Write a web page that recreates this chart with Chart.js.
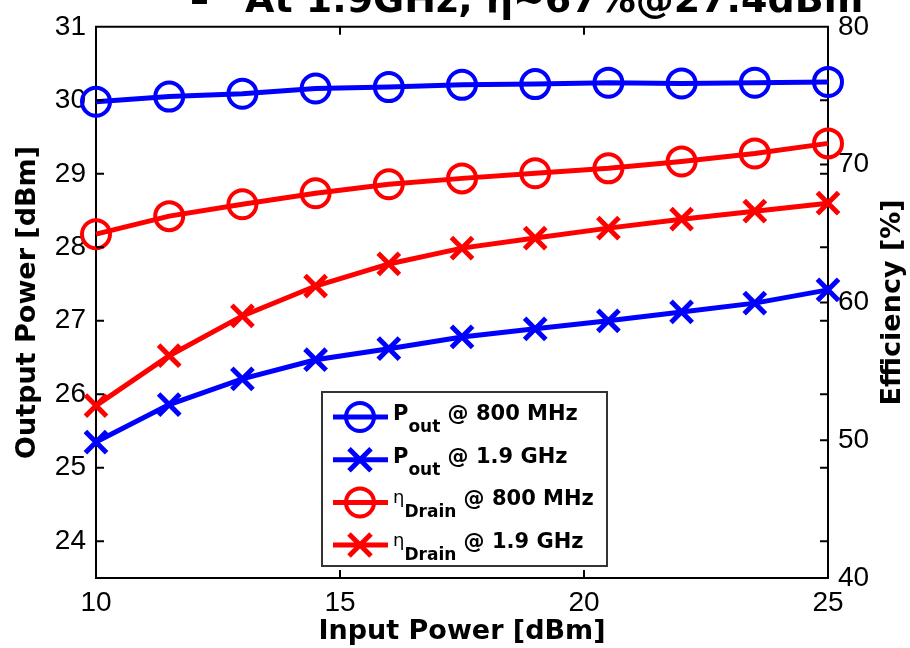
<!DOCTYPE html>
<html>
<head>
<meta charset="utf-8">
<title>Output power and drain efficiency vs input power</title>
<script src="https://cdn.jsdelivr.net/npm/chart.js@4.4.0/dist/chart.umd.min.js"></script>
<style>
  html, body { margin: 0; padding: 0; background: #fff; }
  #wrap { width: 910px; height: 648px; }
</style>
</head>
<body>
<div id="wrap"><canvas id="graph" width="910" height="648"></canvas></div>
<script>
'use strict';

// input power sweep [dBm]
const inputPower = [10, 11.5, 13, 14.5, 16, 17.5, 19, 20.5, 22, 23.5, 25];

// output power [dBm]
const pout800 = [29.98, 30.05, 30.09, 30.16, 30.18, 30.21, 30.22, 30.24, 30.23, 30.24, 30.25];
const pout1900 = [25.35, 25.86, 26.21, 26.47, 26.62, 26.78, 26.89, 27.0, 27.12, 27.24, 27.42];

// drain efficiency [%]
const eta800 = [64.95, 66.26, 67.12, 67.92, 68.57, 69.0, 69.37, 69.73, 70.23, 70.81, 71.54];
const eta1900 = [52.51, 56.13, 59.02, 61.19, 62.79, 63.94, 64.67, 65.39, 66.04, 66.62, 67.2];

// tick labels
const xTicks = [10, 15, 20, 25];
const powerTicks = [24, 25, 26, 27, 28, 29, 30, 31];
const effTicks = [40, 50, 60, 70, 80];

const BLUE = '#0000ff';
const RED = '#ff0000';
const BOLD = 'bold 21px "DejaVu Sans"';
const SUB = 'bold 17px "DejaVu Sans"';
const ETA = '18px "DejaVu Sans"';

function pairs(ys) {
    return inputPower.map(function (x, i) { return { x: x, y: ys[i] }; });
}

function series(label, ys, color, style, axis) {
    const circle = style === 'circle';
    return {
        label: label,
        data: pairs(ys),
        yAxisID: axis,
        borderColor: color,
        borderWidth: 5,
        pointStyle: style,
        pointRadius: circle ? 14 : 15,
        pointBorderWidth: circle ? 4 : 5,
        pointBorderColor: color,
        pointBackgroundColor: 'rgba(0,0,0,0)',
        tension: 0,
        clip: false
    };
}

// legend rows, text pieces: [text, font, baseline shift]
const legendRows = [
    { color: BLUE, style: 'circle', parts: [['P', BOLD, 0], ['out', SUB, 12], [' @ 800 MHz', BOLD, 0]] },
    { color: BLUE, style: 'cross', parts: [['P', BOLD, 0], ['out', SUB, 12], [' @ 1.9 GHz', BOLD, 0]] },
    { color: RED, style: 'circle', parts: [['\u03b7', ETA, -2], ['Drain', SUB, 12], [' @ 800 MHz', BOLD, 0]] },
    { color: RED, style: 'cross', parts: [['\u03b7', ETA, -2], ['Drain', SUB, 12], [' @ 1.9 GHz', BOLD, 0]] }
];

const matlabFrame = {
    id: 'matlabFrame',
    afterDatasetsDraw: function (chart) {
        const ctx = chart.ctx;
        const a = chart.chartArea;
        const sx = chart.scales.x, yl = chart.scales.yPower, yr = chart.scales.yEff;
        const len = 8;
        ctx.save();
        ctx.strokeStyle = '#000';
        ctx.lineWidth = 2;
        ctx.beginPath();
        // top edge of the box
        ctx.moveTo(a.left - 1, a.top);
        ctx.lineTo(a.right + 1, a.top);
        // inward ticks
        sx.ticks.forEach(function (t) {
            const px = sx.getPixelForValue(t.value);
            ctx.moveTo(px, a.bottom); ctx.lineTo(px, a.bottom - len);
            ctx.moveTo(px, a.top); ctx.lineTo(px, a.top + len);
        });
        yl.ticks.forEach(function (t) {
            const py = yl.getPixelForValue(t.value);
            ctx.moveTo(a.left, py); ctx.lineTo(a.left + len, py);
            ctx.moveTo(a.right, py); ctx.lineTo(a.right - len, py);
        });
        yr.ticks.forEach(function (t) {
            const py = yr.getPixelForValue(t.value);
            ctx.moveTo(a.right, py); ctx.lineTo(a.right - len, py);
        });
        ctx.stroke();
        ctx.restore();
    },
    afterDraw: function (chart) {
        const ctx = chart.ctx;
        const a = chart.chartArea;
        ctx.save();

        // slide bullet line, cut off at the top edge
        ctx.fillStyle = '#000';
        ctx.font = 'bold 38px "DejaVu Sans"';
        ctx.textAlign = 'left';
        ctx.textBaseline = 'alphabetic';
        ctx.fillText('\u2013', 190, 12);
        ctx.fillText('At 1.9GHz, \u03b7~67%@27.4dBm', 245, 12);

        // right axis title, reading bottom to top
        ctx.font = 'bold 27px "DejaVu Sans"';
        ctx.textAlign = 'center';
        ctx.textBaseline = 'middle';
        ctx.translate(893, (a.top + a.bottom) / 2);
        ctx.rotate(-Math.PI / 2);
        ctx.fillText('Efficiency [%]', 0, 0);
        ctx.setTransform(1, 0, 0, 1, 0, 0);

        // legend
        const box = { left: 322, top: 392, right: 607, bottom: 566 };
        ctx.fillStyle = '#fff';
        ctx.fillRect(box.left, box.top, box.right - box.left, box.bottom - box.top);
        ctx.strokeStyle = '#333';
        ctx.lineWidth = 2;
        ctx.strokeRect(box.left, box.top, box.right - box.left, box.bottom - box.top);

        legendRows.forEach(function (row, i) {
            const cy = 417 + i * 42.7;
            ctx.strokeStyle = row.color;
            ctx.lineWidth = 5;
            ctx.beginPath();
            ctx.moveTo(333, cy);
            ctx.lineTo(388, cy);
            ctx.stroke();
            ctx.beginPath();
            if (row.style === 'circle') {
                ctx.lineWidth = 4;
                ctx.arc(360, cy, 14, 0, Math.PI * 2);
            } else {
                ctx.moveTo(349, cy - 11); ctx.lineTo(371, cy + 11);
                ctx.moveTo(371, cy - 11); ctx.lineTo(349, cy + 11);
            }
            ctx.stroke();

            let x = 393;
            ctx.fillStyle = '#000';
            ctx.textAlign = 'left';
            ctx.textBaseline = 'alphabetic';
            row.parts.forEach(function (p) {
                ctx.font = p[1];
                ctx.fillText(p[0], x, cy + 3 + p[2]);
                x += ctx.measureText(p[0]).width;
            });
        });
        ctx.restore();
    }
};

const tickFont = { family: '"Liberation Sans", Arial, sans-serif', size: 28 };
const titleFont = { family: '"DejaVu Sans"', size: 27, weight: 'bold' };

new Chart('graph', {
    type: 'line',
    data: {
        datasets: [
            series('Pout @ 800 MHz', pout800, BLUE, 'circle', 'yPower'),
            series('Pout @ 1.9 GHz', pout1900, BLUE, 'crossRot', 'yPower'),
            series('\u03b7Drain @ 800 MHz', eta800, RED, 'circle', 'yEff'),
            series('\u03b7Drain @ 1.9 GHz', eta1900, RED, 'crossRot', 'yEff')
        ]
    },
    options: {
        responsive: false,
        animation: false,
        devicePixelRatio: 1,
        layout: { padding: { top: 25, left: 0, right: 0, bottom: 0 } },
        plugins: {
            legend: { display: false },
            tooltip: { enabled: false }
        },
        scales: {
            x: {
                type: 'linear',
                min: 10,
                max: 25,
                afterBuildTicks: function (s) { s.ticks = xTicks.map(function (v) { return { value: v }; }); },
                afterFit: function (s) { s.height = 70; },
                grid: { display: false, drawTicks: false },
                border: { display: true, color: '#000', width: 2 },
                ticks: { color: '#000', font: tickFont, padding: 8, maxRotation: 0 },
                title: { display: true, text: 'Input Power [dBm]', color: '#000', font: titleFont, padding: { top: 0, bottom: 0 } }
            },
            yPower: {
                type: 'linear',
                position: 'left',
                min: 23.5,
                max: 31,
                afterBuildTicks: function (s) { s.ticks = powerTicks.map(function (v) { return { value: v }; }); },
                afterFit: function (s) { s.width = 96; },
                grid: { display: false, drawTicks: false },
                border: { display: true, color: '#000', width: 2 },
                ticks: { color: '#000', font: tickFont, padding: 10 },
                title: { display: true, text: 'Output Power [dBm]', color: '#000', font: titleFont, padding: { top: 12, bottom: 0 } }
            },
            yEff: {
                type: 'linear',
                position: 'right',
                min: 40,
                max: 80,
                afterBuildTicks: function (s) { s.ticks = effTicks.map(function (v) { return { value: v }; }); },
                afterFit: function (s) { s.width = 82; },
                grid: { display: false, drawTicks: false },
                border: { display: true, color: '#000', width: 2 },
                ticks: { color: '#000', font: tickFont, padding: 10 }
            }
        }
    },
    plugins: [matlabFrame]
});
</script>
</body>
</html>
